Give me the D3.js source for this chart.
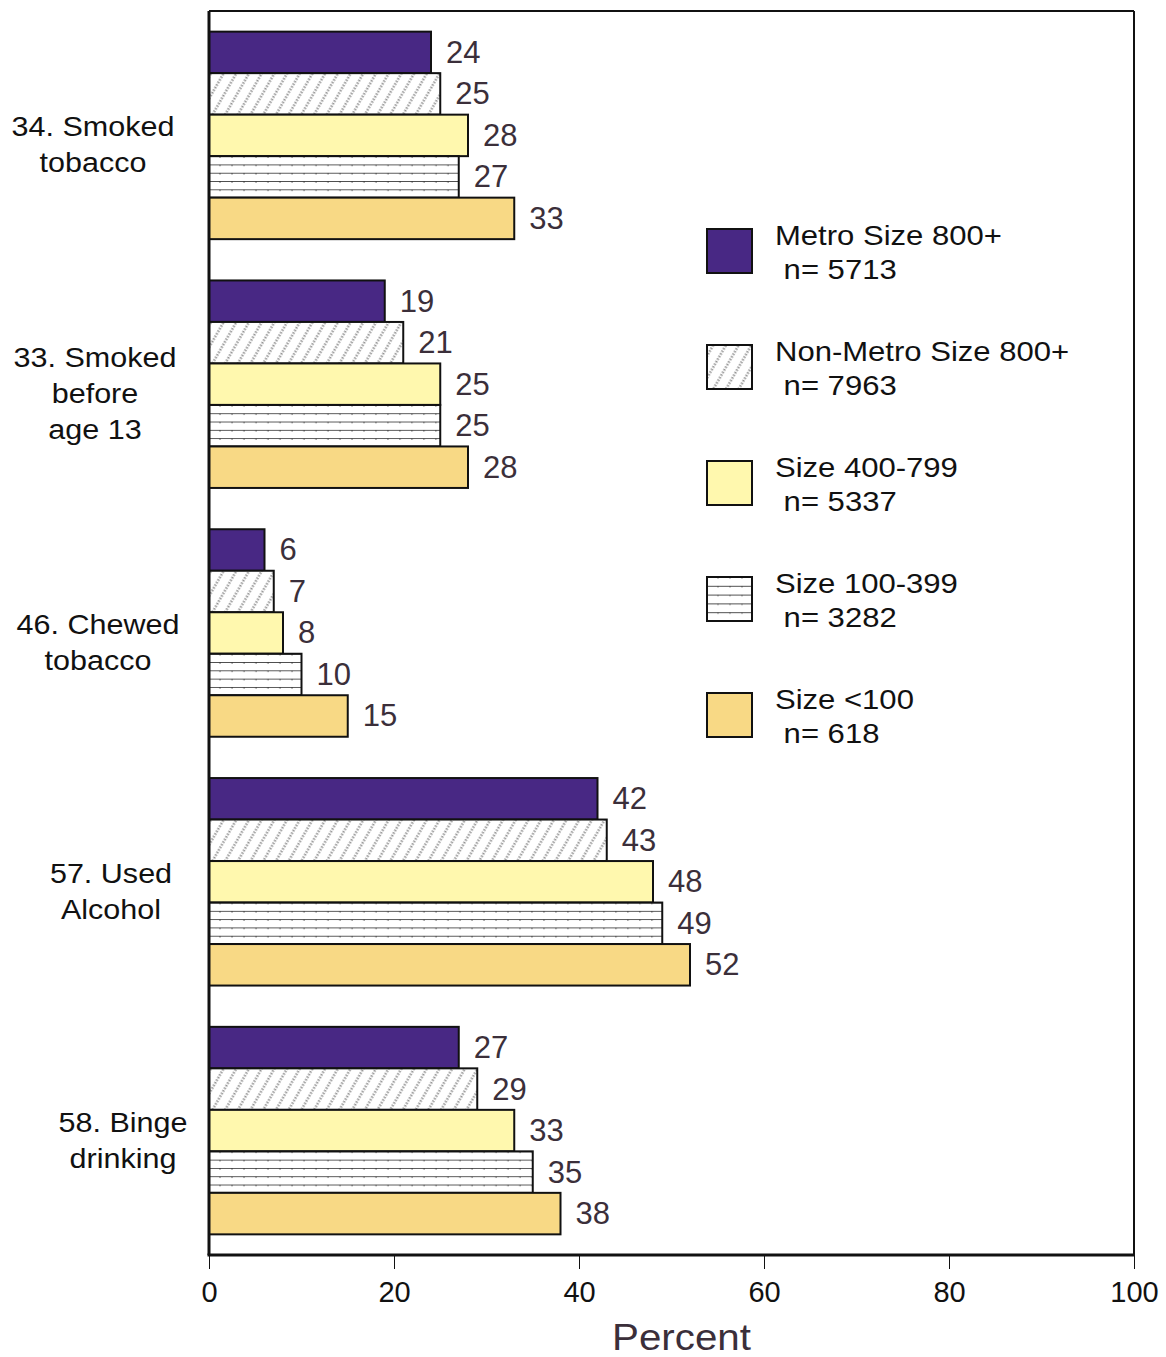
<!DOCTYPE html>
<html>
<head>
<meta charset="utf-8">
<script src="https://cdn.jsdelivr.net/npm/d3@7"></script>
<style>
  html, body { margin: 0; padding: 0; background: #fff; }
  svg { display: block; font-family: "Liberation Sans", Arial, sans-serif; }
</style>
</head>
<body>
<svg id="chart" width="1166" height="1357"></svg>
<script>
// ---- data ----
const categories = [
  ["34. Smoked", "tobacco"],
  ["33. Smoked", "before", "age 13"],
  ["46. Chewed", "tobacco"],
  ["57. Used", "Alcohol"],
  ["58. Binge", "drinking"]
];
const seriesNames = ["Metro Size 800+", "Non-Metro Size 800+", "Size 400-799", "Size 100-399", "Size <100"];
const seriesN = ["5713", "7963", "5337", "3282", "618"];
const metro800 =    [24, 19, 6, 42, 27];
const nonMetro800 = [25, 21, 7, 43, 29];
const size400 =     [28, 25, 8, 48, 33];
const size100 =     [27, 25, 10, 49, 35];
const sizeLt100 =   [33, 28, 15, 52, 38];
const seriesValues = [metro800, nonMetro800, size400, size100, sizeLt100];
const xTicks = [0, 20, 40, 60, 80, 100];
const axisTitle = "Percent";

// ---- layout ----
const L = 209, R = 1134, T = 11, B = 1255;
const labelCenters = [93, 95, 98, 111, 123];
const fills = ["#482884", "url(#hatchDiag)", "#FFF8AE", "url(#hatchHoriz)", "#F8D985"];
const valueColor = "#3b2f3a";
const SX = 1.13; // horizontal stretch of the original lettering

const svg = d3.select("#chart");
const defs = svg.append("defs");

// diagonal dotted hatch
const pd = defs.append("pattern").attr("id", "hatchDiag")
  .attr("patternUnits", "userSpaceOnUse").attr("width", 11).attr("height", 3)
  .attr("patternTransform", "rotate(30)");
pd.append("rect").attr("width", 11).attr("height", 3).attr("fill", "#fff");
pd.append("line").attr("x1", 5.5).attr("x2", 5.5).attr("y1", 0).attr("y2", 1.5)
  .attr("stroke", "#909090").attr("stroke-width", 2.4);

// horizontal lines hatch (4 inner lines per bar)
const ph = defs.append("pattern").attr("id", "hatchHoriz")
  .attr("patternUnits", "objectBoundingBox").attr("width", 1).attr("height", 0.2);
ph.append("rect").attr("width", 2000).attr("height", 60).attr("fill", "#fff");
ph.append("line").attr("x1", 0).attr("x2", 2000).attr("y1", 0).attr("y2", 0)
  .attr("stroke", "#111").attr("stroke-width", 1.3);
ph.append("path")
  .attr("d", d3.range(0, 2000, 12).map(x => `M${x + 11},-1.5V1.5`).join(""))
  .attr("stroke", "#333").attr("stroke-width", 1);

// ---- scales ----
const x = d3.scaleLinear().domain([0, 100]).range([L, R]);
const y0 = d3.scaleBand().domain(d3.range(categories.length)).range([T, B])
  .paddingInner(0.166).paddingOuter(0.083);
const y1 = d3.scaleBand().domain(d3.range(seriesNames.length)).range([0, y0.bandwidth()]);

// ---- bars ----
const groups = svg.append("g").selectAll("g").data(categories).join("g")
  .attr("transform", (d, i) => `translate(0,${y0(i)})`);

groups.each(function (cat, ci) {
  const g = d3.select(this);
  const rows = seriesValues.map((vals, si) => ({ si, v: vals[ci] }));
  g.selectAll("rect").data(rows).join("rect")
    .attr("x", x(0))
    .attr("y", d => y1(d.si))
    .attr("width", d => x(d.v) - x(0))
    .attr("height", y1.bandwidth())
    .attr("fill", d => fills[d.si])
    .attr("stroke", "#111").attr("stroke-width", 2);
  g.selectAll("text.val").data(rows).join("text").attr("class", "val")
    .attr("x", d => x(d.v) + 15)
    .attr("y", d => y1(d.si) + y1.bandwidth() / 2 + 10.5)
    .attr("font-size", 31).attr("fill", valueColor)
    .text(d => d.v);
});

// ---- category labels ----
const lineH = 36;
svg.append("g").selectAll("text").data(categories).join("text")
  .attr("text-anchor", "middle").attr("font-size", 27.5).attr("fill", "#111")
  .attr("transform", (d, i) => `translate(${labelCenters[i]},0) scale(${SX - 0.02},1)`)
  .each(function (lines, i) {
    const cy = y0(i) + y0.bandwidth() / 2 + 5;
    const top = cy - (lines.length - 1) * lineH / 2 + 14;
    d3.select(this).selectAll("tspan").data(lines).join("tspan")
      .attr("x", 0)
      .attr("y", (d, k) => top + k * lineH)
      .text(d => d);
  });

// ---- frame ----
svg.append("line").attr("x1", L).attr("x2", R).attr("y1", T).attr("y2", T)
  .attr("stroke", "#111").attr("stroke-width", 2);
svg.append("line").attr("x1", R).attr("x2", R).attr("y1", T).attr("y2", B)
  .attr("stroke", "#111").attr("stroke-width", 2);
svg.append("line").attr("x1", L).attr("x2", L).attr("y1", T).attr("y2", B)
  .attr("stroke", "#111").attr("stroke-width", 3);

// ---- x axis ----
const ax = svg.append("g").attr("transform", `translate(0,${B})`)
  .call(d3.axisBottom(x).tickValues(xTicks).tickSize(14).tickPadding(12).tickFormat(d3.format("d")));
ax.select(".domain").remove();
ax.selectAll(".tick line").attr("stroke", "#111").attr("stroke-width", 1);
ax.selectAll(".tick text").attr("font-size", 29).attr("fill", "#111")
  .attr("font-family", "Liberation Sans, Arial, sans-serif");
svg.append("line").attr("x1", L - 1.5).attr("x2", R + 1).attr("y1", B).attr("y2", B)
  .attr("stroke", "#111").attr("stroke-width", 3);

svg.append("text")
  .attr("transform", `translate(${(x(0) + x(100)) / 2 + 10},1350) scale(1.09,1)`)
  .attr("text-anchor", "middle").attr("font-size", 37).attr("fill", valueColor)
  .text(axisTitle);

// ---- legend ----
const legTop = 229, legStep = 116;
const leg = svg.append("g").selectAll("g").data(seriesNames).join("g")
  .attr("transform", (d, i) => `translate(707,${legTop + i * legStep})`);
leg.append("rect").attr("width", 45).attr("height", 44)
  .attr("fill", (d, i) => fills[i]).attr("stroke", "#111").attr("stroke-width", 2);
leg.append("text").attr("transform", `translate(68,16) scale(1.15,1)`)
  .attr("font-size", 27).attr("fill", "#111")
  .text(d => d);
leg.append("text").attr("transform", `translate(68,50) scale(1.15,1)`)
  .attr("font-size", 27).attr("fill", "#111")
  .text((d, i) => "\u00a0n= " + seriesN[i]);
</script>
</body>
</html>
